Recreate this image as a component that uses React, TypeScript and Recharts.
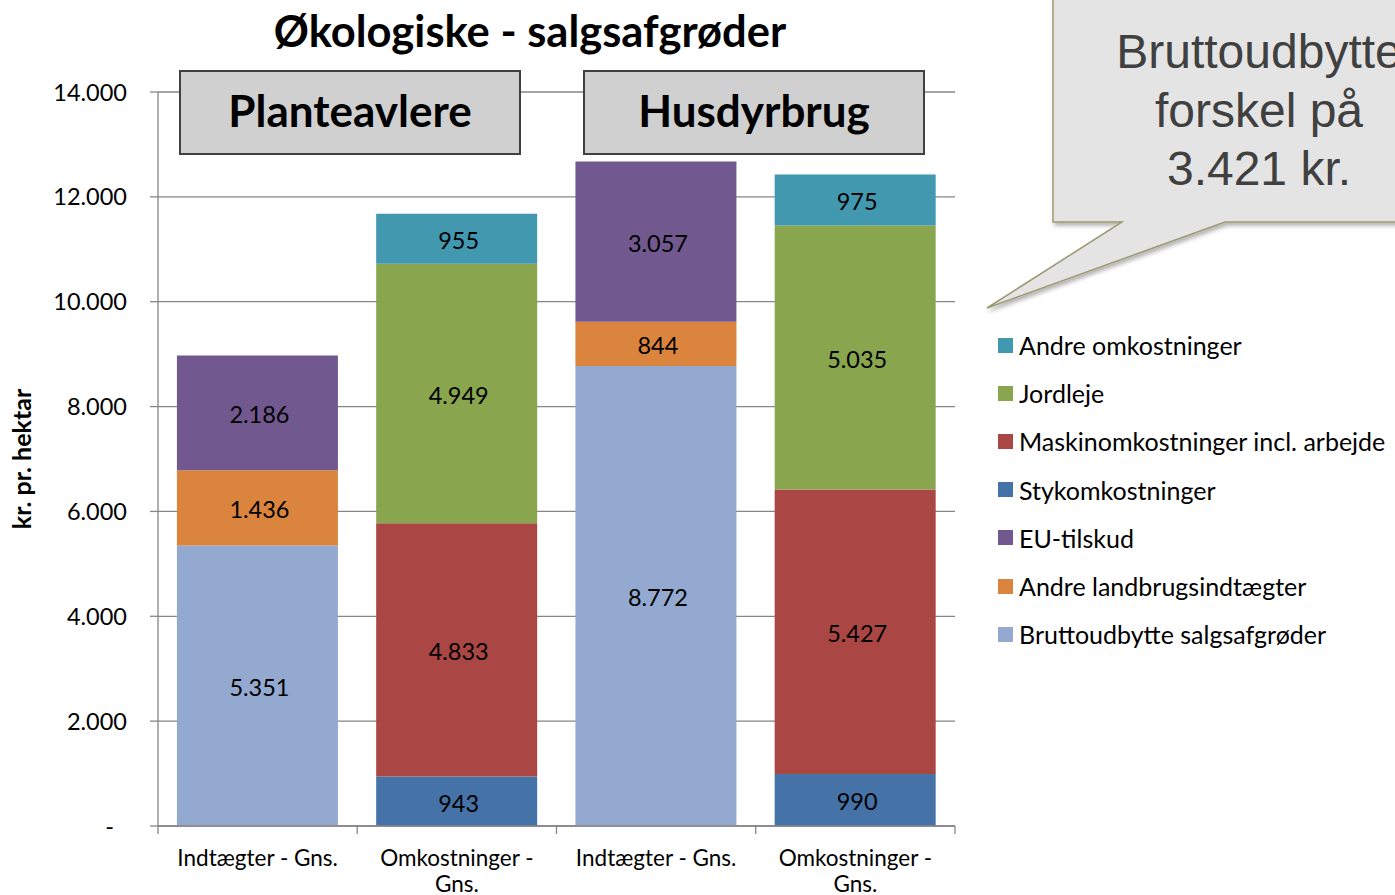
import React from 'react';
import { BarChart, Bar, XAxis, YAxis, CartesianGrid, LabelList } from 'recharts';

const categories = ['Indtægter - Gns.', 'Omkostninger - Gns.', 'Indtægter - Gns.', 'Omkostninger - Gns.'];
const bruttoudbytte = [5351, null, 8772, null];
const andreLandbrug = [1436, null, 844, null];
const euTilskud = [2186, null, 3057, null];
const stykomk = [null, 943, null, 990];
const maskinomk = [null, 4833, null, 5427];
const jordleje = [null, 4949, null, 5035];
const andreOmk = [null, 955, null, 975];
const yTicks = [0, 2000, 4000, 6000, 8000, 10000, 12000, 14000];
const groupLabels = ['Planteavlere', 'Husdyrbrug'];
const titleText = 'Økologiske - salgsafgrøder';
const yLabel = 'kr. pr. hektar';
const calloutLines = ['Bruttoudbytte', 'forskel på', '3.421 kr.'];

const series = [
  { key: 'brutto', name: 'Bruttoudbytte salgsafgrøder', values: bruttoudbytte, color: '#93A9CF' },
  { key: 'andreL', name: 'Andre landbrugsindtægter', values: andreLandbrug, color: '#DB843D' },
  { key: 'eu', name: 'EU-tilskud', values: euTilskud, color: '#71588F' },
  { key: 'styk', name: 'Stykomkostninger', values: stykomk, color: '#4572A7' },
  { key: 'maskin', name: 'Maskinomkostninger incl. arbejde', values: maskinomk, color: '#AA4643' },
  { key: 'jord', name: 'Jordleje', values: jordleje, color: '#89A54E' },
  { key: 'andreO', name: 'Andre omkostninger', values: andreOmk, color: '#4198AF' },
];

const data = categories.map((c, i) => {
  const row: any = { name: c };
  series.forEach((s) => { row[s.key] = s.values[i]; });
  return row;
});

const FONT = 'Lato, "Open Sans", sans-serif';

const fmt = (v: number | null | undefined) => {
  if (v === null || v === undefined) return '';
  if (v === 0) return '-';
  return String(v).replace(/\B(?=(\d{3})+(?!\d))/g, '.');
};

const splitLabel = (s: string) => {
  if (s.length <= 17) return [s];
  const i = s.lastIndexOf(' ');
  return [s.slice(0, i), s.slice(i + 1)];
};

const YTick = (props: any) => {
  const { x, y, payload } = props;
  const v = payload.value;
  return (
    <text x={v === 0 ? x - 13 : x} y={y} dy={8.5} textAnchor="end" fontSize={23.5} fontFamily={FONT} fill="#000">
      {fmt(v)}
    </text>
  );
};

const XTick = (props: any) => {
  const { x, y, payload, index, visibleTicksCount } = props;
  const off = payload.offset ?? 99.6;
  const last = index === (visibleTicksCount ?? categories.length) - 1;
  const lines = splitLabel(String(payload.value));
  return (
    <g>
      <line x1={x - off} x2={x - off} y1={y} y2={y + 8} stroke="#868686" strokeWidth={1.3} />
      {last && <line x1={x + off} x2={x + off} y1={y} y2={y + 8} stroke="#868686" strokeWidth={1.3} />}
      <text x={x} y={y + 40} textAnchor="middle" fontFamily={FONT} fontSize={22.5} fill="#000">
        {lines.map((l, i) => (
          <tspan key={i} x={x} dy={i === 0 ? 0 : 26}>{l}</tspan>
        ))}
      </text>
    </g>
  );
};

export default function App() {
  return (
    <div style={{ position: 'absolute', left: 0, top: 0, width: 1395, height: 895, overflow: 'hidden', background: '#fff' }}>
      <BarChart
        width={1395}
        height={895}
        data={data}
        margin={{ top: 92, right: 440, bottom: 0, left: 0 }}
        barCategoryGap="9.5%"
        style={{ fontFamily: FONT }}
      >
        <CartesianGrid vertical={false} stroke="#868686" strokeWidth={1.3} />
        <XAxis
          dataKey="name"
          height={69}
          axisLine={{ stroke: '#868686', strokeWidth: 1.3 }}
          tickLine={false}
          tickSize={0}
          tickMargin={0}
          interval={0}
          tick={<XTick />}
        />
        <YAxis
          width={158}
          domain={[0, 14000]}
          ticks={yTicks}
          interval={0}
          tickSize={8}
          tickMargin={23}
          axisLine={{ stroke: '#868686', strokeWidth: 1.3 }}
          tickLine={{ stroke: '#868686', strokeWidth: 1.3 }}
          tick={<YTick />}
        />
        {series.map((s) => (
          <Bar key={s.key} dataKey={s.key} name={s.name} stackId="a" fill={s.color} isAnimationActive={false}>
            <LabelList
              dataKey={s.key}
              position="center"
              dy={2}
              dx={2}
              formatter={(v: any) => fmt(v)}
              style={{ fontFamily: FONT, fontSize: 23.5, fill: '#000' }}
            />
          </Bar>
        ))}
      </BarChart>
      <div
        style={{
          position: 'absolute',
          left: 998,
          top: 321,
          width: 397,
          fontFamily: FONT,
          fontSize: 25,
          color: '#000',
        }}
      >
        {[...series].reverse().map((s) => (
          <div key={s.key} style={{ height: 48.2, display: 'flex', alignItems: 'center', whiteSpace: 'nowrap' }}>
            <span style={{ display: 'inline-block', width: 15, height: 15, background: s.color, marginRight: 6, flexShrink: 0 }} />
            <span>{s.name}</span>
          </div>
        ))}
      </div>
      <svg
        width={1395}
        height={895}
        style={{ position: 'absolute', left: 0, top: 0, pointerEvents: 'none', overflow: 'hidden' }}
      >
        <defs>
          <filter id="sh" x="-10%" y="-10%" width="130%" height="140%">
            <feDropShadow dx="2" dy="3" stdDeviation="2" floodColor="#000" floodOpacity="0.3" />
          </filter>
        </defs>
        <text x={530} y={47} textAnchor="middle" fontFamily={FONT} fontWeight={700} fontSize={43.5} fill="#000">
          {titleText}
        </text>
        <rect x={180} y={71} width={340} height={83} fill="#D0D0D0" stroke="#404040" strokeWidth={2} />
        <rect x={584} y={71} width={340} height={83} fill="#D0D0D0" stroke="#404040" strokeWidth={2} />
        <text x={350} y={127} textAnchor="middle" fontFamily={FONT} fontWeight={700} fontSize={44} fill="#000">
          {groupLabels[0]}
        </text>
        <text x={754} y={127} textAnchor="middle" fontFamily={FONT} fontWeight={700} fontSize={44} fill="#000">
          {groupLabels[1]}
        </text>
        <text
          transform="translate(31,459) rotate(-90)"
          textAnchor="middle"
          fontFamily={FONT}
          fontWeight={700}
          fontSize={25}
          fill="#000"
        >
          {yLabel}
        </text>
        <path
          d="M1053,-5 L1405,-5 L1405,222 L1225,222 L987,308 L1122,222 L1053,222 Z"
          fill="#E4E4E4"
          stroke="#9C9A74"
          strokeWidth={1.5}
          filter="url(#sh)"
        />
        {calloutLines.map((l, i) => (
          <text
            key={i}
            x={1259}
            y={68 + i * 58.5}
            textAnchor="middle"
            fontFamily='"Liberation Sans", Arial, sans-serif'
            fontSize={48}
            fill="#404040"
          >
            {l}
          </text>
        ))}
      </svg>
    </div>
  );
}
